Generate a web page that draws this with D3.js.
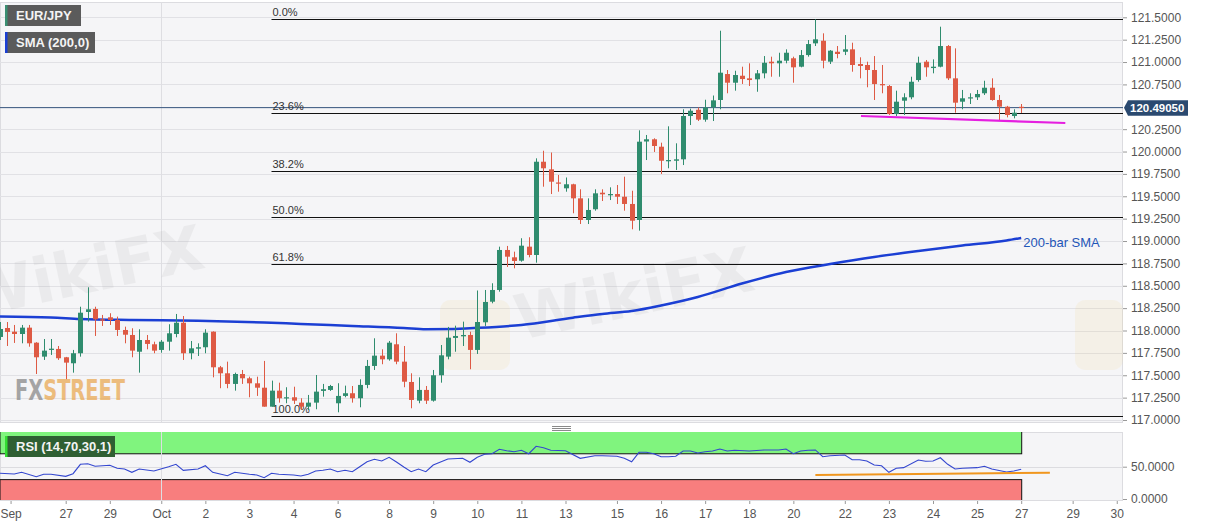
<!DOCTYPE html>
<html lang="en">
<head>
<meta charset="UTF-8">
<title>EUR/JPY</title>
<script src="https://d3js.org/d3.v7.min.js"></script>
<style>
  body { margin: 0; background: #fff; font-family: "Liberation Sans", Arial, sans-serif; }
  svg { display: block; }
  .axis text { fill: #555; font-size: 12px; font-family: "Liberation Sans", Arial, sans-serif; }
  .axis path { display: none; }
  .axis line { stroke: #999; }
</style>
</head>
<body>
<svg id="chart"></svg>
<script>
// candles (4h), the first one sits at index -1, half cut by the left edge
const firstIdx = -1;
const opens = [
  117.928, 118.028, 117.987, 117.961, 118.032, 117.864, 117.708, 117.783, 117.794, 117.701,
  117.634, 117.746, 118.207, 118.241, 118.125, 118.148, 118.118, 118.006, 117.950, 117.763,
  117.894, 117.846, 117.783, 117.875, 117.961, 118.087, 117.746, 117.797, 117.813, 117.987,
  117.589, 117.522, 117.403, 117.514, 117.466, 117.410, 117.361, 117.149, 117.328, 117.243,
  117.254, 117.194, 117.149, 117.194, 117.325, 117.336, 117.187, 117.269, 117.299, 117.243,
  117.392, 117.604, 117.719, 117.678, 117.846, 117.652, 117.425, 117.216, 117.336, 117.216,
  117.500, 117.708, 117.917, 117.935, 117.950, 117.783, 118.092, 118.322, 118.453, 118.900,
  118.818, 118.780, 118.937, 118.844, 119.886, 119.801, 119.654, 119.589, 119.634, 119.477,
  119.235, 119.355, 119.540, 119.511, 119.525, 119.495, 119.414, 119.235, 120.112, 120.137,
  120.054, 119.891, 119.897, 119.913, 120.397, 120.467, 120.356, 120.494, 120.576, 120.866,
  120.769, 120.847, 120.818, 120.807, 120.874, 121.004, 120.986, 121.015, 121.042, 120.948,
  121.078, 121.209, 121.238, 121.004, 121.115, 121.115, 121.142, 120.978, 120.967, 120.911,
  120.754, 120.732, 120.419, 120.568, 120.606, 120.799, 121.004, 120.933, 120.948, 121.179,
  120.818, 120.557, 120.595, 120.606, 120.651, 120.713, 120.576, 120.501, 120.397, 120.500
];
const highs = [
  118.095, 118.095, 118.062, 118.062, 118.062, 117.870, 117.905, 117.905, 117.827, 117.705,
  117.783, 118.266, 118.483, 118.266, 118.174, 118.193, 118.155, 118.043, 118.025, 118.014,
  117.950, 117.875, 117.894, 118.070, 118.185, 118.162, 117.883, 117.857, 118.014, 117.990,
  117.604, 117.652, 117.529, 117.559, 117.484, 117.484, 117.660, 117.440, 117.417, 117.366,
  117.372, 117.243, 117.280, 117.503, 117.403, 117.392, 117.411, 117.384, 117.380, 117.455,
  117.671, 117.913, 117.790, 117.883, 117.969, 117.827, 117.522, 117.477, 117.380, 117.559,
  117.838, 118.040, 118.054, 118.099, 117.987, 118.447, 118.453, 118.528, 118.937, 118.945,
  118.881, 119.031, 119.042, 119.924, 120.009, 119.989, 119.738, 119.710, 119.640, 119.578,
  119.477, 119.578, 119.578, 119.600, 119.626, 119.719, 119.562, 120.237, 120.185, 120.148,
  120.099, 120.282, 120.092, 120.472, 120.479, 120.492, 120.579, 120.626, 121.350, 120.911,
  120.903, 120.948, 120.986, 120.911, 121.067, 121.060, 121.104, 121.142, 121.060, 121.134,
  121.246, 121.477, 121.321, 121.134, 121.179, 121.302, 121.216, 121.053, 121.004, 121.067,
  120.967, 120.743, 120.680, 120.651, 120.836, 121.060, 121.023, 121.030, 121.395, 121.190,
  121.153, 120.688, 120.651, 120.688, 120.791, 120.818, 120.632, 120.510, 120.472, 120.531
];
const lows = [
  117.894, 117.827, 117.861, 117.857, 117.819, 117.514, 117.671, 117.727, 117.671, 117.455,
  117.529, 117.708, 118.099, 117.939, 118.051, 118.062, 117.939, 117.857, 117.701, 117.529,
  117.790, 117.746, 117.752, 117.775, 117.924, 117.671, 117.678, 117.715, 117.746, 117.477,
  117.355, 117.355, 117.328, 117.403, 117.254, 117.269, 117.149, 117.149, 117.194, 117.187,
  117.179, 117.112, 117.112, 117.120, 117.261, 117.325, 117.086, 117.254, 117.194, 117.142,
  117.355, 117.559, 117.623, 117.663, 117.623, 117.366, 117.131, 117.187, 117.179, 117.205,
  117.417, 117.678, 117.763, 117.827, 117.567, 117.738, 118.051, 118.304, 118.434, 118.710,
  118.695, 118.769, 118.818, 118.758, 119.607, 119.525, 119.551, 119.551, 119.310, 119.190,
  119.190, 119.339, 119.447, 119.458, 119.414, 119.339, 119.131, 119.116, 119.905, 119.995,
  119.749, 119.813, 119.794, 119.849, 120.296, 120.341, 120.333, 120.341, 120.472, 120.651,
  120.680, 120.755, 120.732, 120.668, 120.818, 120.836, 120.836, 120.986, 120.769, 120.941,
  121.060, 121.179, 120.930, 120.978, 121.042, 121.078, 120.892, 120.818, 120.718, 120.576,
  120.651, 120.408, 120.397, 120.408, 120.584, 120.780, 120.836, 120.874, 120.941, 120.799,
  120.434, 120.472, 120.531, 120.576, 120.632, 120.568, 120.352, 120.382, 120.371, 120.431
];
const closes = [
  118.017, 117.984, 117.961, 118.032, 117.857, 117.701, 117.775, 117.797, 117.690, 117.641,
  117.746, 118.199, 118.237, 118.125, 118.110, 118.118, 118.006, 117.953, 117.775, 117.894,
  117.850, 117.775, 117.875, 117.969, 118.087, 117.746, 117.801, 117.813, 117.976, 117.589,
  117.522, 117.403, 117.514, 117.466, 117.410, 117.361, 117.149, 117.328, 117.243, 117.254,
  117.216, 117.149, 117.194, 117.317, 117.344, 117.380, 117.269, 117.299, 117.243, 117.392,
  117.604, 117.719, 117.678, 117.864, 117.652, 117.428, 117.224, 117.336, 117.216, 117.500,
  117.723, 117.920, 117.939, 117.950, 117.783, 118.095, 118.319, 118.453, 118.900, 118.825,
  118.777, 118.948, 118.844, 119.886, 119.813, 119.663, 119.643, 119.634, 119.477, 119.235,
  119.347, 119.533, 119.522, 119.525, 119.495, 119.414, 119.227, 120.110, 120.137, 120.062,
  119.897, 119.905, 119.913, 120.397, 120.456, 120.356, 120.492, 120.572, 120.881, 120.769,
  120.855, 120.810, 120.799, 120.874, 120.992, 120.986, 121.015, 121.104, 120.941, 121.078,
  121.201, 121.254, 121.015, 121.127, 121.090, 121.142, 120.967, 120.956, 120.911, 120.754,
  120.740, 120.419, 120.557, 120.606, 120.780, 120.992, 120.941, 120.948, 121.179, 120.818,
  120.546, 120.595, 120.606, 120.643, 120.713, 120.576, 120.501, 120.408, 120.434, 120.4905
];

// 200-bar SMA, read at some candles
const smaIdx = [-1, 6, 10, 17, 26, 35, 40, 47, 54, 57, 61, 63, 70, 77, 81, 85, 89, 94, 100, 106, 112, 118, 124, 130, 136, 138];
const smaVal = [118.157, 118.146, 118.129, 118.118, 118.110, 118.090, 118.073, 118.051, 118.028, 118.014, 118.017, 118.025, 118.062,
  118.143, 118.185, 118.218, 118.280, 118.375, 118.525, 118.654, 118.743, 118.822, 118.889, 118.950, 119.006, 119.034];

// RSI (14)
const rsiIdx = [-1, 1, 2, 4, 5, 6, 8, 9, 10, 11, 12, 14, 15, 16, 17, 18, 20, 22, 23, 24,
  26, 27, 28, 30, 31, 33, 34, 35, 36, 37, 39, 40, 41, 42, 43, 44, 45, 46, 47, 48,
  49, 50, 51, 52, 53, 54, 55, 56, 57, 58, 60, 62, 63, 64, 65, 66, 67, 68, 69, 70,
  71, 72, 73, 74, 76, 78, 80, 81, 83, 84, 85, 86, 87, 88, 89, 90, 91, 92, 93, 94,
  95, 96, 97, 98, 99, 101, 103, 105, 106, 107, 108, 109, 110, 111, 112, 114, 115, 116, 117, 118,
  119, 120, 121, 122, 124, 125, 126, 127, 128, 129, 130, 132, 133, 134, 136, 137, 138];
const rsiVal = [39.8, 38.7, 41.3, 34.5, 38.2, 38.2, 35.1, 39.2, 53.7, 54.6, 50.6, 52.2, 47.5, 46.4, 41.3, 46.4, 43.3, 50.0, 53.7, 44.4,
  46.4, 51.5, 41.3, 36.1, 41.3, 38.2, 37.2, 33.0, 39.8, 38.2, 37.2, 35.6, 38.2, 43.3, 44.4, 46.4, 42.3, 44.4, 42.3, 50.0,
  57.7, 61.5, 58.8, 64.6, 57.3, 49.5, 42.3, 46.4, 42.3, 52.6, 61.9, 63.0, 56.8, 64.6, 69.2, 70.1, 76.9, 74.8, 73.2, 75.4,
  70.1, 81.6, 79.4, 75.4, 74.8, 63.0, 67.0, 67.0, 66.1, 63.0, 57.7, 72.3, 72.3, 70.1, 65.5, 65.5, 66.1, 74.3, 74.3, 71.2,
  73.2, 74.3, 77.4, 74.3, 75.4, 74.3, 75.9, 75.9, 77.4, 70.1, 74.3, 75.4, 75.9, 65.5, 67.0, 68.1, 60.8, 60.8, 58.8, 52.6,
  51.5, 41.3, 47.5, 48.5, 60.4, 58.4, 58.8, 63.9, 53.7, 46.4, 47.5, 48.5, 50.6, 46.4, 41.8, 43.3, 46.0];

// fibonacci retracement of the 117.05 -> 121.48 swing
const fibRatios = [0, 0.236, 0.382, 0.5, 0.618, 1];
const fibLabels = ["0.0%", "23.6%", "38.2%", "50.0%", "61.8%", "100.0%"];
const fibHigh = 121.478;
const fibLow = 117.048;
const fibStart = 36;

// hand drawn trend lines
const supportIdx = [116.2, 144];
const supportVal = [120.397, 120.319];
const rsiTrendIdx = [110, 141.9];
const rsiTrendVal = [37.2, 40.7];

const lastPrice = 120.4905;

const priceTicks = [117, 117.25, 117.5, 117.75, 118, 118.25, 118.5, 118.75, 119, 119.25, 119.5, 119.75, 120, 120.25, 120.5, 120.75, 121, 121.25, 121.5];
const rsiTicks = [0, 50];
const dayLabels = ["Sep", "27", "29", "Oct", "2", "3", "4", "6", "8", "9", "10", "11", "13", "15", "16", "17", "18", "20", "22", "23", "24", "25", "27", "29", "30"];
const dayIdx = [0.5, 8, 14, 21, 27, 33, 39, 45, 52, 58, 64, 70, 76, 83, 89, 95, 101, 107, 114, 120, 126, 132, 138, 145, 151];

//layout
const w = 1207, h = 526;
const plotR = 1123;
const mainTop = 2, mainBot = 422;
const rsiTop = 432, rsiBot = 500;
const candleW = 5;
const upCol = "#2f8c6e", downCol = "#de5a44";

const svg = d3.select("#chart").attr("width", w).attr("height", h);

//scales
const x = d3.scaleLinear().domain([0, 151]).range([6.9, 6.9 + 151 * 7.35]);
const y = d3.scaleLinear().domain([117, 121.5]).range([420, 17.3]);
const yR = d3.scaleLinear().domain([0, 100]).range([499, 434.4]);

const defs = svg.append("defs");
defs.append("clipPath").attr("id", "clipMain")
  .append("rect").attr("x", 0).attr("y", mainTop).attr("width", plotR).attr("height", mainBot - mainTop);
defs.append("clipPath").attr("id", "clipRsi")
  .append("rect").attr("x", 0).attr("y", rsiTop).attr("width", plotR).attr("height", rsiBot - rsiTop);

//panel backgrounds
svg.append("rect").attr("x", 0.5).attr("y", mainTop + 0.5).attr("width", plotR - 1).attr("height", mainBot - mainTop)
  .attr("fill", "#f5f5f7").attr("stroke", "#dcdce0");
svg.append("rect").attr("x", 0.5).attr("y", rsiTop + 0.5).attr("width", plotR - 1).attr("height", rsiBot - rsiTop)
  .attr("fill", "#f5f5f7").attr("stroke", "#dcdce0");

const main = svg.append("g").attr("clip-path", "url(#clipMain)");
const rsiG = svg.append("g").attr("clip-path", "url(#clipRsi)");

//grid
main.selectAll(".hgrid").data(priceTicks).enter().append("line")
  .attr("x1", 0).attr("x2", plotR)
  .attr("y1", d => Math.round(y(d)) + 0.5).attr("y2", d => Math.round(y(d)) + 0.5)
  .attr("stroke", "#e1e1e5");
main.append("line")
  .attr("x1", Math.round(x(21)) + 0.5).attr("x2", Math.round(x(21)) + 0.5)
  .attr("y1", mainTop).attr("y2", mainBot).attr("stroke", "#dedee2");

//watermarks (clipped to the panel like in the source)
const wm = main.append("g").attr("pointer-events", "none");
wm.append("text").attr("x", -30).attr("y", 318).attr("transform", "rotate(-12,-30,318)")
  .attr("font-size", 62).attr("font-weight", "bold").attr("fill", "#999").attr("opacity", 0.11)
  .attr("font-family", "DejaVu Sans").text("WikiFX");
wm.append("text").attr("x", 520).attr("y", 340).attr("transform", "rotate(-12,520,340)")
  .attr("font-size", 62).attr("font-weight", "bold").attr("fill", "#999").attr("opacity", 0.11)
  .attr("font-family", "DejaVu Sans").text("WikiFX");
wm.append("rect").attr("x", 440).attr("y", 300).attr("width", 70).attr("height", 70).attr("rx", 10)
  .attr("fill", "#f3d27a").attr("opacity", 0.13);
wm.append("rect").attr("x", 1075).attr("y", 300).attr("width", 48).attr("height", 70).attr("rx", 10)
  .attr("fill", "#f3d27a").attr("opacity", 0.13);

//FXSTREET logo
const fx = svg.append("text").attr("x", 15).attr("y", 400)
  .attr("font-family", "DejaVu Sans Condensed, DejaVu Sans").attr("font-weight", "bold")
  .attr("font-size", 29).attr("opacity", 0.75);
fx.append("tspan").attr("fill", "#8a8a8a").text("FX");
fx.append("tspan").attr("fill", "#e9a955").text("STREET");
// squeeze the logo to its width in the source
const fxw = fx.node().getComputedTextLength();
fx.attr("transform", "translate(15,0) scale(" + (110 / fxw) + ",1) translate(-15,0)");

//current price line
main.append("line").attr("x1", 0).attr("x2", plotR)
  .attr("y1", y(lastPrice)).attr("y2", y(lastPrice)).attr("stroke", "#36557e").attr("stroke-width", 1);

//fibonacci levels
const fib = fibRatios.map((r, i) => ({ v: fibHigh - r * (fibHigh - fibLow), label: fibLabels[i] }));
main.selectAll(".fib").data(fib).enter().append("line")
  .attr("x1", x(fibStart)).attr("x2", plotR)
  .attr("y1", d => Math.round(y(d.v)) + 0.5).attr("y2", d => Math.round(y(d.v)) + 0.5)
  .attr("stroke", "#111").attr("stroke-width", 1.2);
main.selectAll(".fibLabel").data(fib).enter().append("text")
  .attr("x", x(fibStart) + 1).attr("y", d => y(d.v) - 3)
  .attr("font-size", 11).attr("fill", "#333").text(d => d.label);

//SMA line
const sma = smaIdx.map((d, i) => [d, smaVal[i]]);
main.append("path").datum(sma)
  .attr("d", d3.line().x(d => x(d[0])).y(d => y(d[1])).curve(d3.curveMonotoneX))
  .attr("fill", "none").attr("stroke", "#1b3fd4").attr("stroke-width", 2.5);

//candles
const candles = opens.map((o, i) => ({ i: i + firstIdx, o: o, h: highs[i], l: lows[i], c: closes[i] }));
const cg = main.selectAll(".candle").data(candles).enter().append("g");
cg.append("line")
  .attr("x1", d => Math.round(x(d.i)) + 0.5).attr("x2", d => Math.round(x(d.i)) + 0.5)
  .attr("y1", d => y(d.h)).attr("y2", d => y(d.l))
  .attr("stroke", d => d.c >= d.o ? upCol : downCol).attr("stroke-width", 1);
cg.append("rect")
  .attr("x", d => Math.round(x(d.i)) - 2)
  .attr("width", candleW)
  .attr("y", d => y(Math.max(d.o, d.c)))
  .attr("height", d => Math.max(1.2, y(Math.min(d.o, d.c)) - y(Math.max(d.o, d.c))))
  .attr("fill", d => d.c >= d.o ? upCol : downCol);

//support line under the last lows
main.append("line")
  .attr("x1", x(supportIdx[0])).attr("y1", y(supportVal[0]))
  .attr("x2", x(supportIdx[1])).attr("y2", y(supportVal[1]))
  .attr("stroke", "#e51fe0").attr("stroke-width", 2.2);

main.append("text").attr("x", x(138) + 2).attr("y", y(smaVal[smaVal.length - 1]) + 9)
  .attr("font-size", 13).attr("fill", "#1f56b8").text("200-bar SMA");

//RSI panel
rsiG.append("rect").attr("x", 0).attr("width", x(138) + 0.5)
  .attr("y", yR(100) - 3).attr("height", yR(70) - yR(100) + 3)
  .attr("fill", "#80f47e").attr("stroke", "#111").attr("stroke-width", 1);
rsiG.append("rect").attr("x", 0).attr("width", x(138) + 0.5)
  .attr("y", yR(30)).attr("height", yR(0) - yR(30) + 3)
  .attr("fill", "#f87e7e").attr("stroke", "#111").attr("stroke-width", 1);
rsiG.append("line").attr("x1", 0).attr("x2", plotR)
  .attr("y1", Math.round(yR(50)) + 0.5).attr("y2", Math.round(yR(50)) + 0.5).attr("stroke", "#dcdce0");
rsiG.append("line")
  .attr("x1", Math.round(x(21)) + 0.5).attr("x2", Math.round(x(21)) + 0.5)
  .attr("y1", rsiTop).attr("y2", rsiBot).attr("stroke", "#dedee2");

const rsi = rsiIdx.map((d, i) => [d, rsiVal[i]]);
rsiG.append("path").datum(rsi)
  .attr("d", d3.line().x(d => x(d[0])).y(d => yR(d[1])))
  .attr("fill", "none").attr("stroke", "#3346cf").attr("stroke-width", 1.1);
rsiG.append("line")
  .attr("x1", x(rsiTrendIdx[0])).attr("y1", yR(rsiTrendVal[0]))
  .attr("x2", x(rsiTrendIdx[1])).attr("y2", yR(rsiTrendVal[1]))
  .attr("stroke", "#f0961e").attr("stroke-width", 2);

//panel splitter handle
[426, 428, 430].forEach(v => {
  svg.append("line").attr("x1", 552).attr("x2", 571).attr("y1", v + 0.5).attr("y2", v + 0.5).attr("stroke", "#8a8a8a");
});

//axes (the tick hidden under the price tag is left out)
const shownTicks = priceTicks.filter(d => Math.abs(y(d) - y(lastPrice)) > 9);
svg.append("g").attr("class", "axis").attr("transform", "translate(" + plotR + ",0)")
  .call(d3.axisRight(y).tickValues(shownTicks).tickFormat(d3.format(".4f")).tickSize(4).tickPadding(4));
svg.append("g").attr("class", "axis").attr("transform", "translate(" + plotR + ",0)")
  .call(d3.axisRight(yR).tickValues(rsiTicks).tickFormat(d3.format(".4f")).tickSize(4).tickPadding(4));
svg.append("g").attr("class", "axis").attr("transform", "translate(0," + (rsiBot + 1) + ")")
  .call(d3.axisBottom(x).tickValues(dayIdx).tickFormat((d, i) => dayLabels[i]).tickSize(3).tickPadding(5));

//last price tag
const ly = y(lastPrice);
svg.append("path")
  .attr("d", "M" + (plotR + 1) + "," + ly + " L" + (plotR + 5) + "," + (ly - 7.5) + " L1188," + (ly - 7.5) +
    " L1188," + (ly + 8) + " L" + (plotR + 5) + "," + (ly + 8) + " Z")
  .attr("fill", "#2b4a70");
svg.append("text").attr("x", plotR + 7).attr("y", ly + 4.5)
  .attr("font-size", 11.5).attr("font-weight", "bold").attr("fill", "#fff").text(lastPrice.toFixed(5));

//legend boxes
function tag(yTop, width, label, barCol, boxCol) {
  svg.append("rect").attr("x", 5).attr("y", yTop).attr("width", width).attr("height", 21).attr("fill", boxCol);
  svg.append("rect").attr("x", 5).attr("y", yTop).attr("width", 2.5).attr("height", 21).attr("fill", barCol);
  svg.append("text").attr("x", 16).attr("y", yTop + 15).attr("font-size", 13).attr("font-weight", "bold")
    .attr("fill", "#f4f4f4").text(label);
}
tag(5, 76, "EUR/JPY", "#3a8f72", "#5b5b5b");
tag(32, 90, "SMA (200,0)", "#1b3fd4", "#5b5b5b");
tag(436, 110, "RSI (14,70,30,1)", "#33dd33", "#2f5f33");
</script>
</body>
</html>
